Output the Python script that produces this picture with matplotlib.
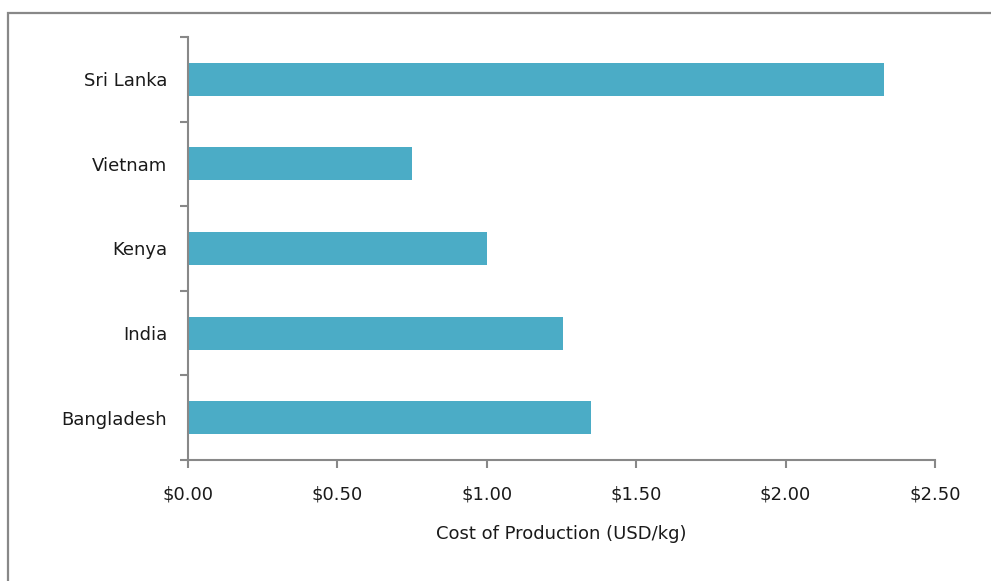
import matplotlib
matplotlib.use("Agg")
import matplotlib.pyplot as plt
from matplotlib.patches import Rectangle
from matplotlib.ticker import FuncFormatter, FixedLocator

countries = ["Bangladesh", "India", "Kenya", "Vietnam", "Sri Lanka"]
cost_usd_per_kg = [1.35, 1.255, 1.00, 0.75, 2.33]
x_ticks = [0.0, 0.5, 1.0, 1.5, 2.0, 2.5]

bar_color = "#4BACC6"
axis_color = "#888888"
text_color = "#1a1a1a"

W, H = 991, 581
fig = plt.figure(figsize=(W / 100, H / 100), dpi=100)
fig.patch.set_facecolor("white")

# outer chart-area border (runs off the right and bottom edges)
fig.patches.append(Rectangle((8 / W, -0.05), 1.1, 1.05 - 13 / H,
                             transform=fig.transFigure, fill=False,
                             edgecolor=axis_color, linewidth=1.6))

ax = fig.add_axes([188 / W, 1 - 460 / H, (935 - 188) / W, (460 - 37) / H])
pos = list(range(len(countries)))
ax.barh(pos, cost_usd_per_kg, height=0.39, color=bar_color)

ax.set_xlim(0, 2.5)
ax.set_ylim(-0.5, len(countries) - 0.5)
ax.set_xticks(x_ticks)
ax.xaxis.set_major_formatter(FuncFormatter(lambda v, p: f"${v:.2f}"))

ax.set_yticks(pos)
ax.set_yticklabels(countries)
ax.yaxis.set_minor_locator(FixedLocator([p - 0.5 for p in pos] + [len(countries) - 0.5]))
ax.tick_params(axis="y", which="major", length=0, pad=15, labelsize=13,
               labelcolor=text_color)
ax.tick_params(axis="y", which="minor", length=6, width=1.5, color=axis_color, direction="out")
ax.tick_params(axis="x", length=6, width=1.5, color=axis_color, direction="out",
               pad=12, labelsize=13, labelcolor=text_color)

for side in ("top", "right"):
    ax.spines[side].set_visible(False)
for side in ("left", "bottom"):
    ax.spines[side].set_color(axis_color)
    ax.spines[side].set_linewidth(1.5)

ax.set_xlabel("Cost of Production (USD/kg)", fontsize=13, labelpad=16, color=text_color)

fig.savefig("out.png", dpi=100, facecolor="white")
